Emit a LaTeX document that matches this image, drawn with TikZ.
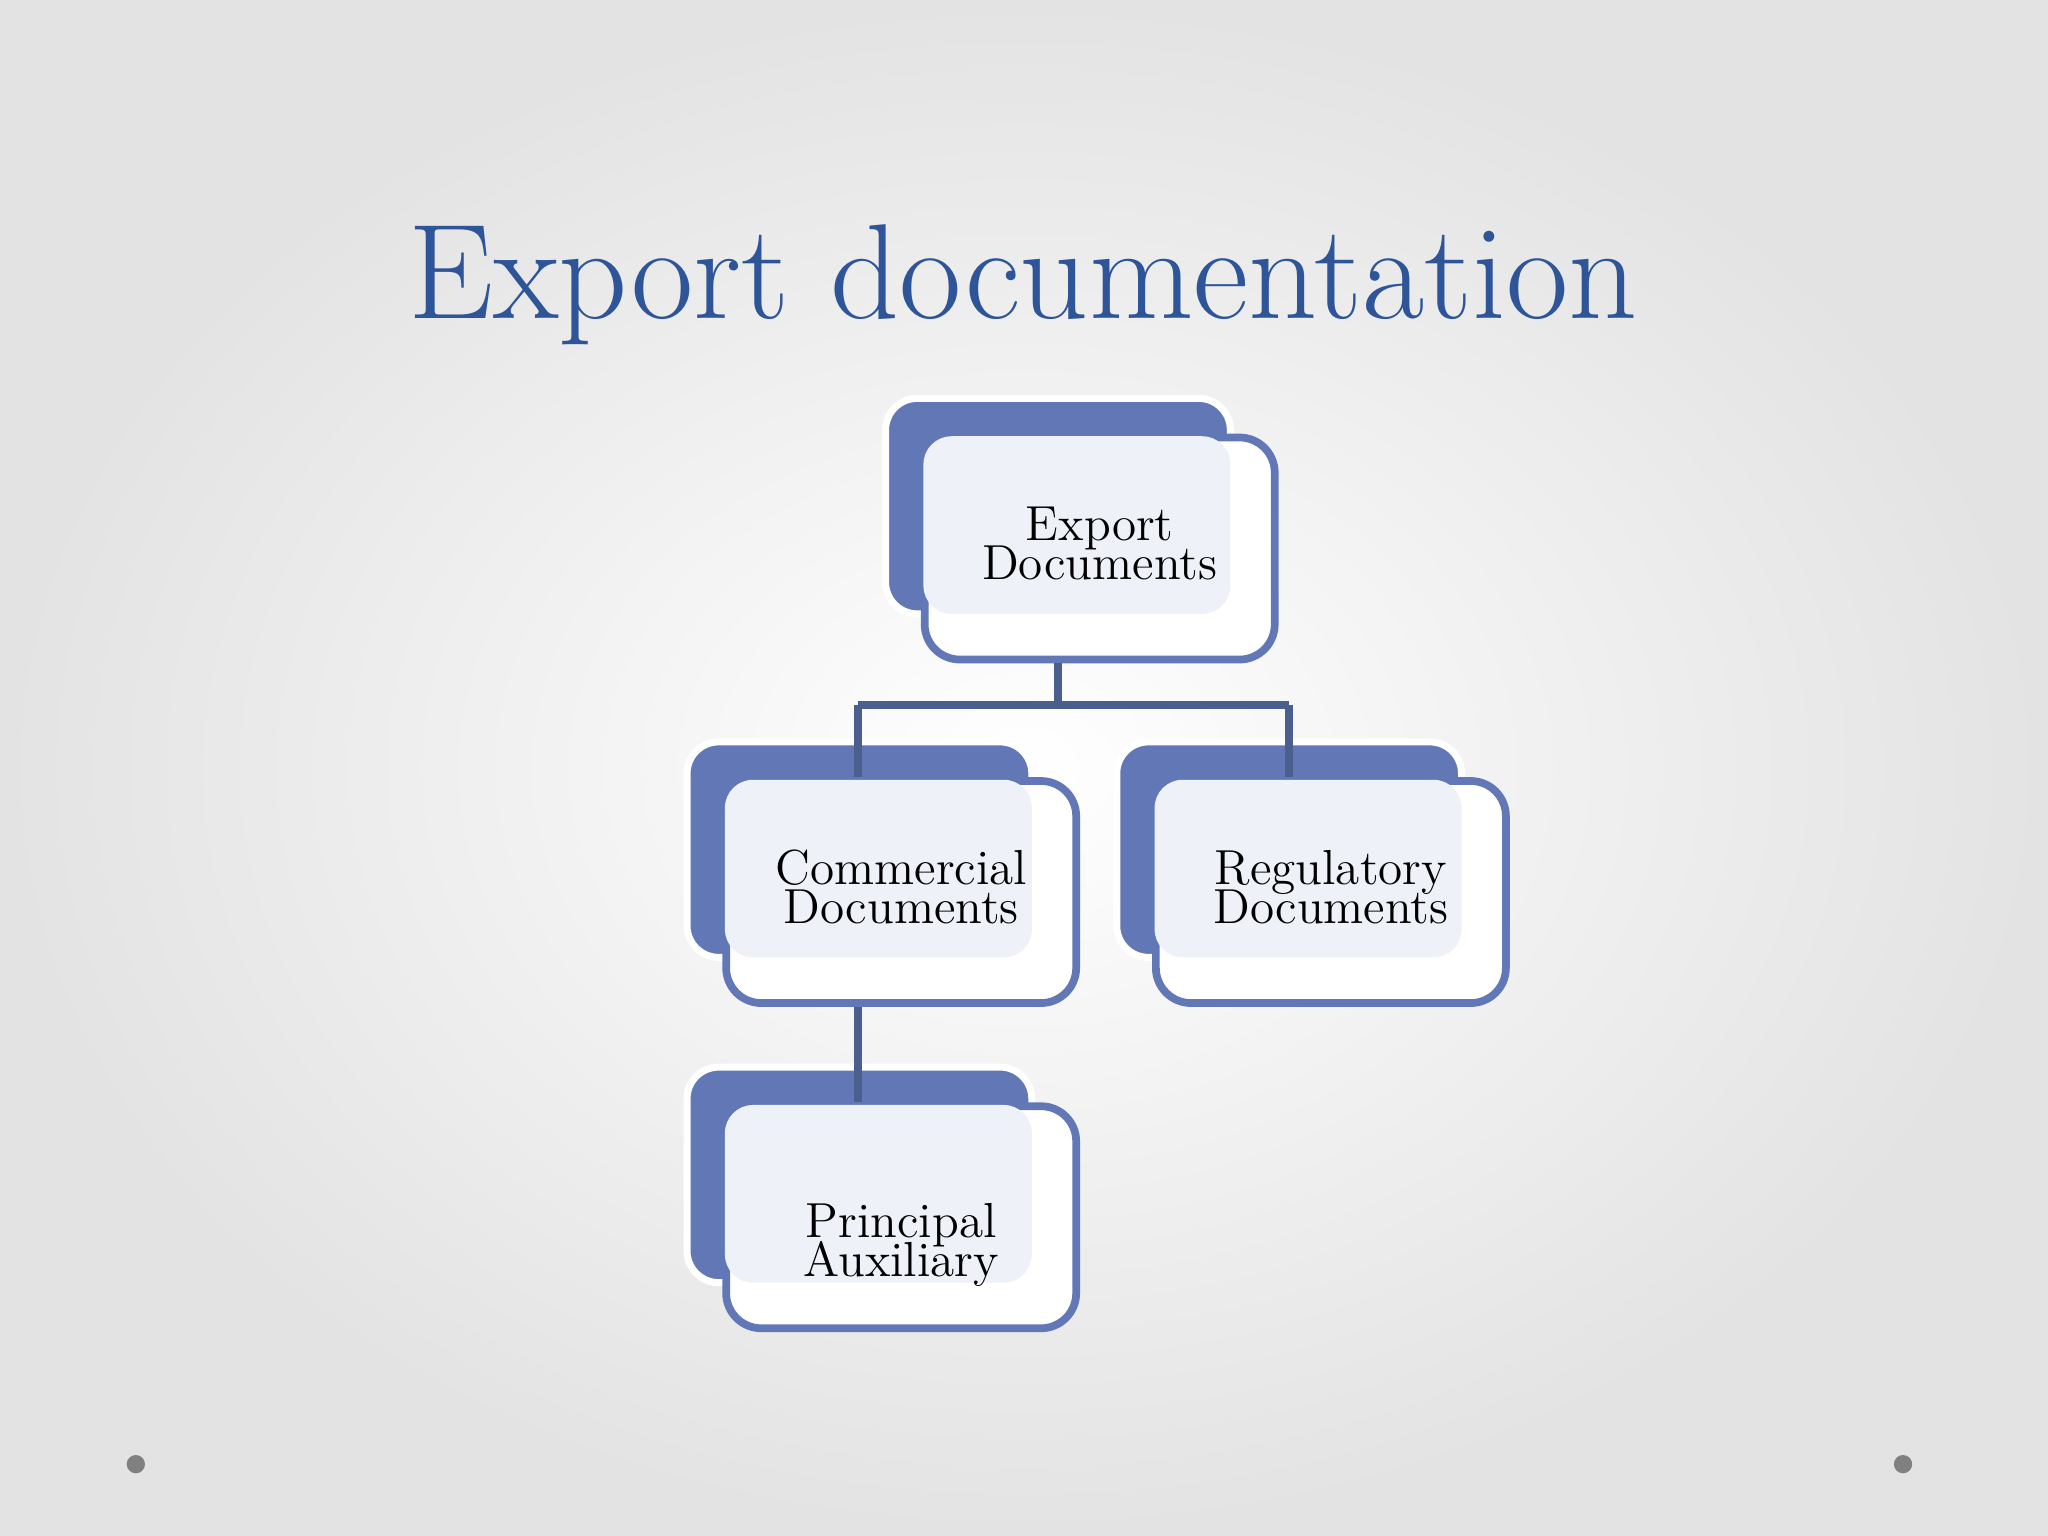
\documentclass[tikz,border=0pt]{standalone}
\definecolor{bk}{HTML}{6278B6}
\definecolor{lav}{HTML}{EEF1F8}
\definecolor{ln}{HTML}{4A5F8E}
\definecolor{ttl}{HTML}{2E5597}
\tikzset{
 backbox/.style={fill=bk,draw=white,line width=2pt,rounded corners=9pt},
 frontbox/.style={fill=white,draw=bk,line width=2.2pt,rounded corners=10pt},
 conn/.style={draw=ln,line width=2.2pt},
 lbl/.style={font=\fontsize{14}{14}\selectfont,align=center,text=black}
}
\newcommand{\orgbox}[5]{%
 \fill[backbox] (#2,#3) rectangle ++(264,165);
 \node[frontbox,minimum width=268*0.01306cm,minimum height=170*0.01306cm,anchor=north west] (#1) at (#2+27,#3+27) {};
 \fill[lav,rounded corners=8pt] (#2+29,#3+29) rectangle (#2+264,#3+165);
 \node[lbl] (#1t) at (#2+164,#3+#5) {#4};
}
\begin{document}
\begin{tikzpicture}[x=0.01306cm,y=-0.01306cm]
\shade[inner color=white,outer color=black!11] (0,0) rectangle (1568,1176);
\useasboundingbox (0,0) rectangle (1568,1176);
\node[text=ttl,font=\fontsize{38.5}{40}\selectfont] (title) at (783,218) {Export documentation};
\orgbox{exp}{678}{305}{Export\\[-3pt]Documents}{111}
\orgbox{com}{526}{568}{Commercial\\[-3pt]Documents}{111}
\orgbox{reg}{855}{568}{Regulatory\\[-3pt]Documents}{111}
\orgbox{pri}{526}{817}{Principal\\[-3pt]Auxiliary}{136}
\coordinate (j) at (810,540);
\coordinate (jl) at (657,540);
\coordinate (jr) at (987,540);
\draw[conn] (exp.south -| j) -- (j);
\draw[conn] (jl) -- (jr);
\draw[conn] (jl) -- (jl |- com.north);
\draw[conn] (jr) -- (jr |- reg.north);
\draw[conn] (com.south -| jl) -- (jl |- pri.north);
\fill[black!50] (104,1121) circle (7) (1457,1121) circle (7);
\end{tikzpicture}
\end{document}
